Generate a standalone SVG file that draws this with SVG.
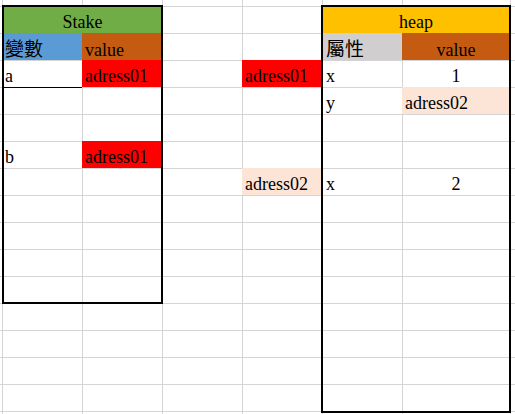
<svg xmlns="http://www.w3.org/2000/svg" width="515" height="414" viewBox="0 0 515 414">
<style>
.grid{stroke:#d4d4d4;stroke-width:1;fill:none}
.t{font-family:"Liberation Serif","Noto Sans CJK TC",serif;font-size:18px;fill:#000}
.cjk{font-family:"Noto Sans CJK TC","Liberation Serif",serif;font-size:19px;fill:#000}
.c{text-anchor:middle}
.box{fill:none;stroke:#000;stroke-width:2}
.red{fill:#ff0000}
.peach{fill:#fce4d6}
</style>
<rect width="515" height="414" fill="#ffffff"/>
<g id="grid">
<path class="grid" d="M0 6.5H515M0 33.5H515M0 60.5H515M0 87.5H515M0 114.5H515M0 141.5H515M0 168.5H515M0 195.5H515M0 222.5H515M0 249.5H515M0 276.5H515M0 303.5H515M0 330.5H515M0 357.5H515M0 384.5H515M0 411.5H515M2.5 0V414M82.5 0V414M162.5 0V414M242.5 0V414M322.5 0V414M402.5 0V414M510.5 0V414"/>
</g>
<g id="stake">
<rect x="3" y="6" width="159" height="27" fill="#70ad47"/>
<rect x="3" y="33" width="79" height="27" fill="#5b9bd5"/>
<rect x="82" y="33" width="80" height="27" fill="#c55a11"/>
<rect class="red" x="82" y="60" width="80" height="27"/>
<rect class="red" x="82" y="141" width="80" height="27"/>
<line x1="3" y1="87.5" x2="82" y2="87.5" stroke="#000" stroke-width="1"/>
<text class="t c" x="82.5" y="28">Stake</text>
<text class="cjk" x="5" y="56">變數</text>
<text class="t" x="85" y="56">value</text>
<text class="t" x="5" y="82">a</text>
<text class="t" x="85" y="82">adress01</text>
<text class="t" x="5" y="163">b</text>
<text class="t" x="85" y="163">adress01</text>
<rect class="box" x="3" y="6" width="159" height="297"/>
</g>
<g id="addr01">
<rect class="red" x="242" y="60" width="80" height="27"/>
<text class="t" x="245" y="82">adress01</text>
</g>
<g id="addr02">
<rect class="peach" x="242" y="168" width="80" height="27"/>
<text class="t" x="245" y="190">adress02</text>
</g>
<g id="heap">
<rect x="322" y="6" width="188" height="27" fill="#ffc000"/>
<rect x="322" y="33" width="80" height="27" fill="#d0cece"/>
<rect x="402" y="33" width="108" height="27" fill="#c55a11"/>
<rect class="peach" x="402" y="87" width="108" height="27"/>
<text class="t c" x="416" y="28">heap</text>
<text class="cjk" x="326" y="56">屬性</text>
<text class="t c" x="456" y="56">value</text>
<text class="t" x="326" y="82">x</text>
<text class="t c" x="456" y="82">1</text>
<text class="t" x="326" y="109">y</text>
<text class="t" x="405" y="109">adress02</text>
<text class="t" x="326" y="190">x</text>
<text class="t c" x="456" y="190">2</text>
<rect class="box" x="322" y="6" width="188" height="406"/>
</g>
<g id="connectors"/>
</svg>
